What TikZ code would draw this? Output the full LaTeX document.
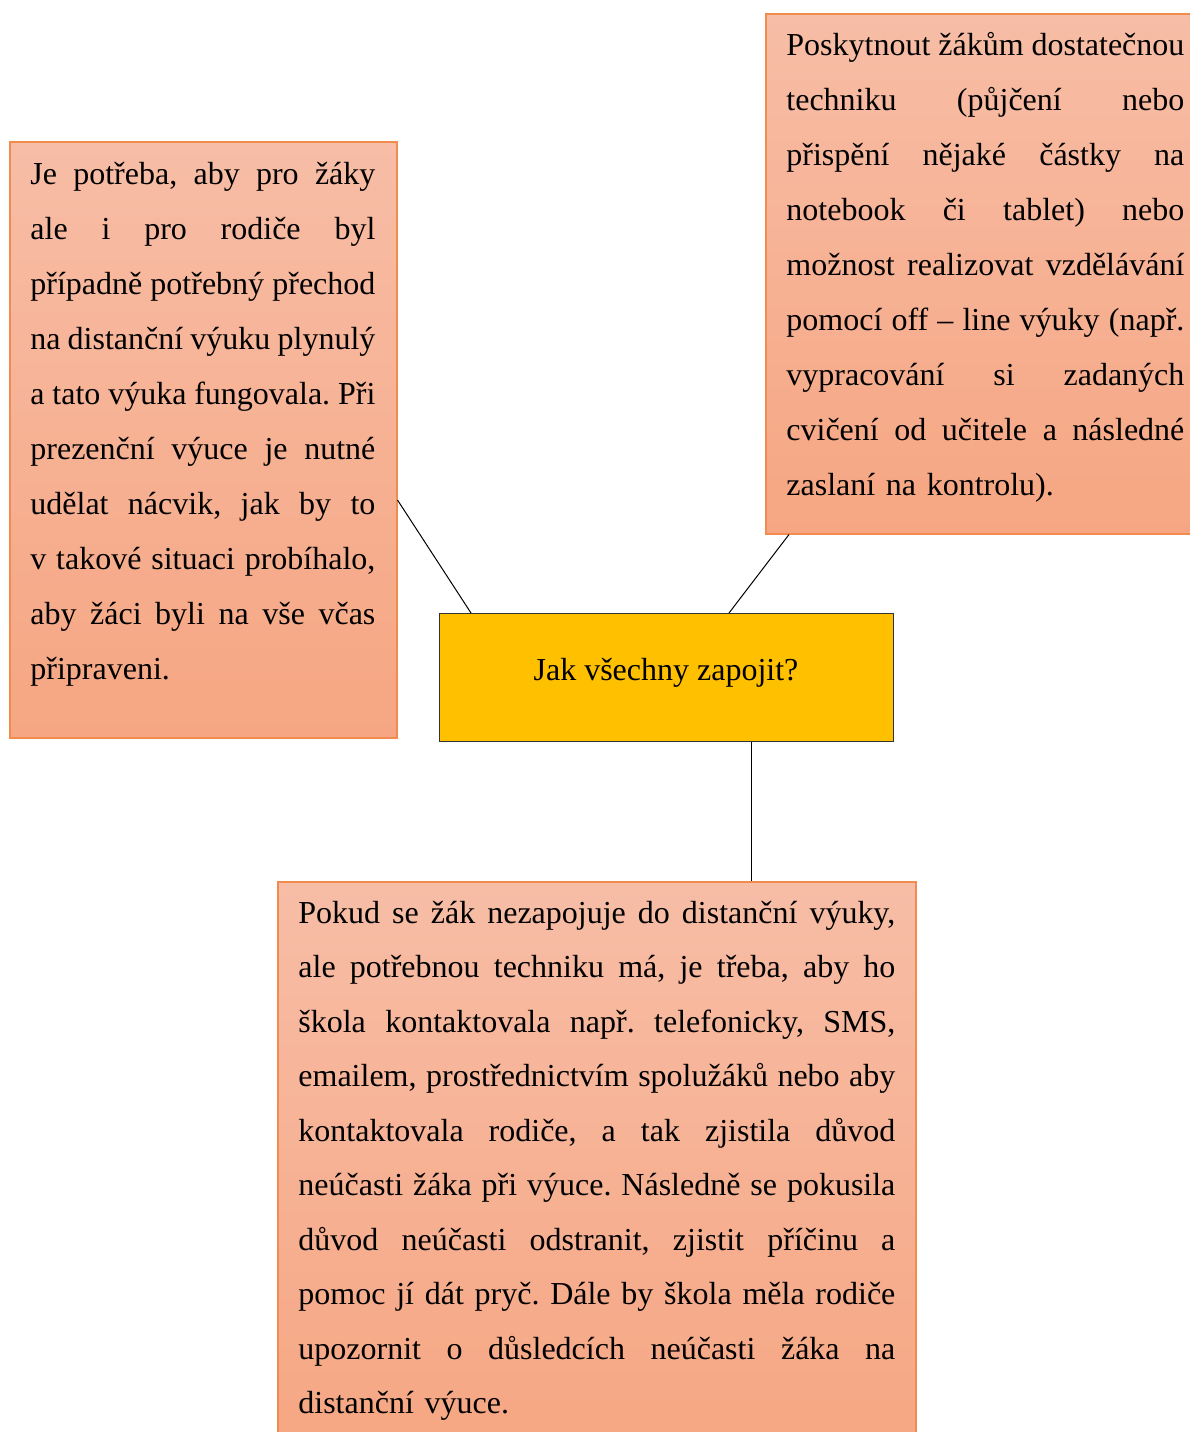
\documentclass[tikz,border=0pt]{standalone}
\usepackage{fontspec}
\setmainfont{Liberation Serif}
\usetikzlibrary{calc}
\definecolor{boxtop}{HTML}{F7BDA6}
\definecolor{boxbot}{HTML}{F6A682}
\definecolor{boxline}{HTML}{F28C4E}
\definecolor{centerfill}{HTML}{FFC000}
\newdimen\jw
\newcommand{\jl}[1]{\leavevmode\hbox to \jw{\spaceskip=0.25em plus 1fil minus 0.18em\relax #1}}
\tikzset{
  idea/.style={draw=boxline, line width=0.75pt, top color=boxtop, bottom color=boxbot,
    rectangle, anchor=north west, inner sep=0pt},
  hub/.style={draw=black!80, line width=0.6pt, fill=centerfill, rectangle,
    anchor=north west, inner sep=0pt},
  txt/.style={anchor=base west, inner sep=0pt, align=left,
    font=\fontsize{16}{27.5}\selectfont\frenchspacing},
  link/.style={draw=black, line width=0.5pt}
}
\begin{document}
\begin{tikzpicture}[x=0.5pt,y=-0.5pt]
\useasboundingbox (0,0) rectangle (1190,1432);
\clip (0,0) rectangle (1190,1432);
% boxes
\node[idea, minimum width=193.5pt, minimum height=298pt] (L) at (9,141) {};
\node[idea, minimum width=216pt, minimum height=260pt] (R) at (765,13) {};
\node[hub, minimum width=227pt, minimum height=64pt] (C) at (439,613) {};
\node[idea, minimum width=319pt, minimum height=290pt] (B) at (277,881) {};
% connectors
\draw[link] ($(L.north east)+(0,359)$) -- ($(C.north west)+(32,0)$);
\draw[link] ($(R.south west)+(24,0)$) -- ($(C.north west)+(290,0)$);
\coordinate (cb) at ($(C.south west)+(312,0)$);
\draw[link] (cb) -- (cb |- B.north);
% texts
\node[txt, text width=172.5pt] (Lt) at (30,184) {\jw=172.5pt%
\jl{Je potřeba, aby pro žáky}\\
\jl{ale i pro rodiče byl}\\
\jl{případně potřebný přechod}\\
\jl{na distanční výuku plynulý}\\
\jl{a tato výuka fungovala. Při}\\
\jl{prezenční výuce je nutné}\\
\jl{udělat nácvik, jak by to}\\
\jl{v takové situaci probíhalo,}\\
\jl{aby žáci byli na vše včas}\\
připraveni.};
\node[txt, text width=199.5pt] (Rt) at (786,55) {\jw=199pt%
\jl{Poskytnout žákům dostatečnou}\\
\jl{techniku (půjčení nebo}\\
\jl{přispění nějaké částky na}\\
\jl{notebook či tablet) nebo}\\
\jl{možnost realizovat vzdělávání}\\
\jl{pomocí off – line výuky (např.}\\
\jl{vypracování si zadaných}\\
\jl{cvičení od učitele a následné}\\
zaslaní na kontrolu).};
\node[txt, text width=298.5pt, font=\fontsize{16}{27.25}\selectfont\frenchspacing] (Bt) at (298,923) {\jw=298.5pt%
\jl{Pokud se žák nezapojuje do distanční výuky,}\\
\jl{ale potřebnou techniku má, je třeba, aby ho}\\
\jl{škola kontaktovala např. telefonicky, SMS,}\\
\jl{emailem, prostřednictvím spolužáků nebo aby}\\
\jl{kontaktovala rodiče, a tak zjistila důvod}\\
\jl{neúčasti žáka při výuce. Následně se pokusila}\\
\jl{důvod neúčasti odstranit, zjistit příčinu a}\\
\jl{pomoc jí dát pryč. Dále by škola měla rodiče}\\
\jl{upozornit o důsledcích neúčasti žáka na}\\
distanční výuce.};
\node[anchor=base, inner sep=0pt, font=\fontsize{16}{19}\selectfont] (Ct) at (666,680) {Jak všechny zapojit?};
\end{tikzpicture}
\end{document}
